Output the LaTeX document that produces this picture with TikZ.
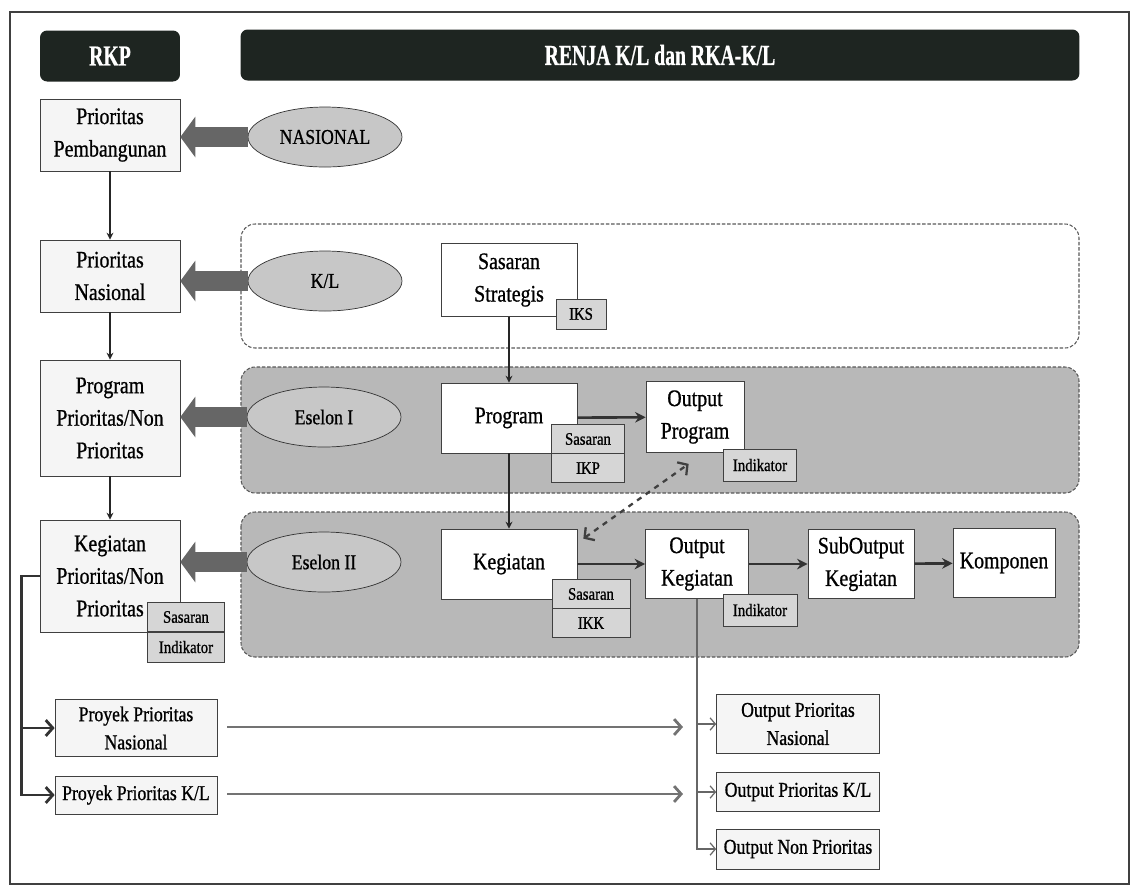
\documentclass[tikz,border=0pt]{standalone}
\usepackage{fontspec}
\setmainfont{Liberation Serif}[FakeStretch=0.84, FakeBold=0.8]
\newfontfamily\headfont{Liberation Serif}[FakeStretch=0.68, FakeBold=0.6]
\usepackage{tikz}
\usetikzlibrary{arrows.meta,positioning,shapes.geometric}
\definecolor{headdark}{RGB}{30,37,33}

\begin{document}
\begin{tikzpicture}[
    x=0.02cm, y=-0.02cm,
    >=Stealth,
    box/.style={draw=black!75, fill=black!4, minimum width=2.8cm, minimum height=1.44cm, align=center, inner sep=2pt, font=\fontsize{13.5}{18.5}\selectfont},
    midbox/.style={box, fill=white, minimum width=2.72cm, minimum height=1.4cm},
    sub/.style={draw=black!75, fill=black!16, minimum height=0.58cm, inner sep=1pt, font=\fontsize{10}{12}\selectfont},
    lowbox/.style={box, minimum width=3.24cm, font=\fontsize{12}{16}\selectfont},
    oval/.style={ellipse, draw=black!80, fill=black!22, minimum width=3.08cm, minimum height=1.2cm, font=\fontsize{12}{14}\selectfont},
    head/.style={fill=headdark, text=white, rounded corners=4pt, minimum height=1.02cm, font=\headfont\bfseries\fontsize{16.5}{18}\selectfont},
    group/.style={draw=black!65, line width=0.6pt, dash pattern=on 2pt off 1pt, rounded corners=8pt},
    link/.style={->, line width=0.8pt, black!85, >={Stealth[length=4pt,width=4pt]}},
    flow/.style={->, line width=1.5pt, black!80, >={Stealth[length=6pt,width=6pt]}},
    fat/.style={line width=0.4cm, black!60, -{Triangle[length=0.3cm,width=0.8cm]}},
    longarr/.style={line width=1.6pt, black!55, -{Straight Barb[length=4pt,width=9pt]}},
    branch/.style={line width=0.7pt, black!60, -{Straight Barb[length=3pt,width=7pt]}}
]
\useasboundingbox (0,0) rectangle (1132,887);
\draw[line width=1pt, black!75] (10,12) rectangle (1129,884);

% kelompok latar
\draw[group, fill=white] (241,224) rectangle (1079,348);
\draw[group, fill=black!28] (241,367) rectangle (1079,493);
\draw[group, fill=black!28] (241,512) rectangle (1079,657);

% judul
\node[head, minimum width=2.8cm] (rkp) at (110,56) {RKP};
\node[head, minimum width=16.78cm] (renja) at (660,55) {RENJA K/L dan RKA-K/L};

% kolom RKP
\node[box] (pp) at (110,135) {Prioritas\\Pembangunan};
\node[box] (pn) at (110,276) {Prioritas\\Nasional};
\node[box, minimum height=2.32cm] (prog) at (110,418) {Program\\Prioritas/Non\\Prioritas};
\node[box, minimum height=2.24cm] (keg) at (110,576) {Kegiatan\\Prioritas/Non\\Prioritas};
\node[sub, minimum width=1.54cm] (kegsas) at (186,617) {Sasaran};
\node[sub, minimum width=1.54cm, minimum height=0.6cm] (kegind) at (186,647) {Indikator};

% pelaku
\node[oval] (nas) at (325,137) {NASIONAL};
\node[oval] (kl) at (325,281) {K/L};
\node[oval] (es1) at (324,417) {Eselon I};
\node[oval] (es2) at (324,562) {Eselon II};

% RENJA
\node[midbox, minimum height=1.46cm] (ss) at (509,280) {Sasaran\\Strategis};
\node[sub, minimum width=1cm, minimum height=0.6cm] (iks) at (581,314) {IKS};
\node[midbox] (pgm) at (509,418) {Program};
\node[sub, minimum width=1.46cm] (pgmsas) at (588,439) {Sasaran};
\node[sub, minimum width=1.46cm] (pgmikp) at (588,468) {IKP};
\node[midbox, minimum width=1.96cm, minimum height=1.42cm] (outp) at (695,417) {Output\\Program};
\node[sub, minimum width=1.46cm, minimum height=0.64cm] (outpind) at (760,465) {Indikator};
\node[midbox] (kgt) at (509,564) {Kegiatan};
\node[sub, minimum width=1.56cm] (kgtsas) at (591,594) {Sasaran};
\node[sub, minimum width=1.56cm] (kgtikk) at (591,623) {IKK};
\node[midbox, minimum width=2.06cm, minimum height=1.38cm] (outk) at (697,564) {Output\\Kegiatan};
\node[sub, minimum width=1.48cm, minimum height=0.64cm] (outkind) at (760,610) {Indikator};
\node[midbox, minimum width=2.12cm, minimum height=1.38cm] (subo) at (861,564) {SubOutput\\Kegiatan};
\node[midbox, minimum width=2.04cm, minimum height=1.38cm] (komp) at (1004,563) {Komponen};

% proyek dan output
\node[lowbox, minimum height=1.14cm] (ppn) at (136,728) {Proyek Prioritas\\Nasional};
\node[lowbox, minimum height=0.76cm] (pkl) at (136,795) {Proyek Prioritas K/L};
\node[lowbox, minimum width=3.26cm, minimum height=1.18cm] (opn) at (798,724) {Output Prioritas\\Nasional};
\node[lowbox, minimum width=3.26cm, minimum height=0.78cm] (opkl) at (798,792) {Output Prioritas K/L};
\node[lowbox, minimum width=3.26cm, minimum height=0.8cm] (onp) at (798,849) {Output Non Prioritas};
\coordinate (tipn) at (683,727);
\coordinate (tipk) at (683,794);

% panah
\draw[link] (pp) -- (pn);
\draw[link] (pn) -- (prog);
\draw[link] (prog) -- (keg);
\draw[link] (ss) -- (pgm);
\draw[link] (pgm) -- (kgt);

\draw[fat] (nas.west) -- (nas.west -| pp.east);
\draw[fat] (kl.west) -- (kl.west -| pn.east);
\draw[fat] (es1.west) -- (es1.west -| prog.east);
\draw[fat] (es2.west) -- (es2.west -| keg.east);

\draw[flow] (pgm) -- (outp);
\draw[flow] (kgt) -- (outk);
\draw[flow] (outk) -- (subo);
\draw[flow] (subo) -- (komp);
\draw[dashed, line width=1.3pt, black!75, {Straight Barb[length=4pt,width=9pt]}-{Straight Barb[length=4pt,width=9pt]}]
    ([shift={(6,10)}]kgt.north east) -- ([shift={(43,11)}]outp.south west);

\draw[line width=1.6pt, black!80, -{Straight Barb[length=4pt,width=9pt]}] (keg.west) -- ++(-18,0) |- (ppn.west);
\draw[line width=1.6pt, black!80, -{Straight Barb[length=4pt,width=9pt]}] (keg.west) -- ++(-18,0) |- (pkl.west);
\draw[longarr, shorten <=0.2cm] (ppn.east |- tipn) -- (tipn);
\draw[longarr, shorten <=0.2cm] (pkl.east |- tipk) -- (tipk);

\draw[branch] (outk.south) |- (onp.west);
\draw[branch] (outk.south |- opn.west) -- (opn.west);
\draw[branch] (outk.south |- opkl.west) -- (opkl.west);
\end{tikzpicture}
\end{document}
